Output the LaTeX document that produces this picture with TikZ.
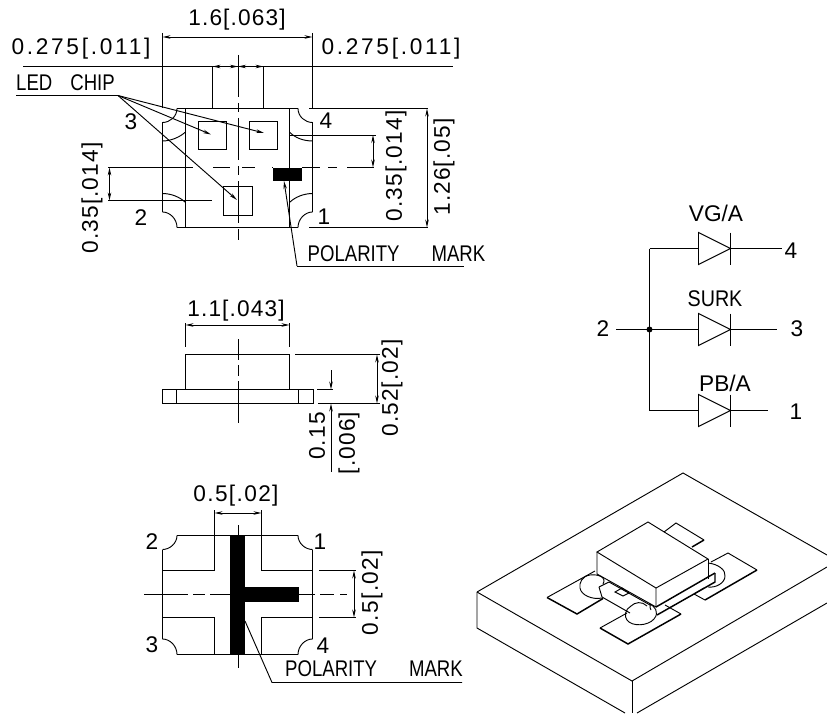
\documentclass[tikz,border=0pt]{standalone}
\usepackage{fontspec}
\setsansfont{Liberation Sans}
\usetikzlibrary{arrows.meta}
\tikzset{
  cad/.style={font=\sffamily\fontsize{17}{20}\selectfont\addfontfeature{LetterSpace=#1},inner sep=0pt},
  cad/.default=5,
  cadrot/.style={cad=#1,rotate=90},
  cadrot/.default=5,
  cadcaps/.style={font=\sffamily\fontsize{17}{20}\selectfont\addfontfeature{FakeStretch=#1},inner sep=0pt},
  cadcaps/.default=0.82,
  dimline/.style={{Stealth[length=6pt,width=2.6pt]}-{Stealth[length=6pt,width=2.6pt]}},
  leader/.style={-{Stealth[length=6pt,width=2.6pt]}},
  heavy/.style={line width=1.1pt}
}
\begin{document}
\begin{tikzpicture}[x=0.75pt,y=0.75pt,yscale=-1,xscale=1,line width=0.7pt]
\useasboundingbox (0,0) rectangle (827,713);

%Top view outline
\draw (177,108.5) -- (298,108.5) (312.5,122.5) -- (312.5,212) (298,227.5) -- (177,227.5) (162.5,212) -- (162.5,122.5);
\draw (177,108.5) .. controls (177,116.5) and (170,122.5) .. (162.5,122.5);
\draw (298,108.5) .. controls (298,116.5) and (305,122.5) .. (312.5,122.5);
\draw (162.5,212) .. controls (170,212) and (177,219) .. (177,227.5);
\draw (312.5,212) .. controls (305,212) and (298,219) .. (298,227.5);
\draw (185.5,108.5) -- (185.5,227.5);
\draw (289.5,108.5) -- (289.5,227.5);
%Pad curves
\draw (162.5,141) .. controls (171,141) and (180,137) .. (185.5,132);
\draw (289.5,132) .. controls (295,138) and (304,141) .. (312.5,141);
\draw (162.5,193.5) .. controls (171,193.5) and (180,197) .. (185.5,202.5);
\draw (289.5,202.5) .. controls (295,197) and (304,193.5) .. (312.5,193.5);
%Chips
\draw (198.5,121.5) rectangle (226.5,149.5);
\draw (249.5,121.5) rectangle (277.5,149.5);
\draw (223.5,186.5) rectangle (252.5,215.5);
\fill (273,167.5) rectangle (301.5,181);
%Centre lines
\foreach \a/\b in {55/97,103/112,118/160,166/175,181/223,229/240}
  \draw (238,\a) -- (238,\b);
\foreach \a/\b in {108/193,213/230,242/255,272/273,302/320,328/337,347/374}
  \draw (\a,167.5) -- (\b,167.5);
%Dimensions
\draw (162.5,33) -- (162.5,108.5);
\draw (312.5,33) -- (312.5,108.5);
\draw [dimline] (162.5,37) -- (312.5,37);
\draw (23,66.5) -- (453,66.5);
\draw (212.5,66.5) -- (212.5,108.5);
\draw (263.5,66.5) -- (263.5,108.5);
\draw [dimline] (212.5,66.5) -- (238,66.5);
\draw [dimline] (238,66.5) -- (263.5,66.5);
\draw (309,108.5) -- (428,108.5);
\draw (309,227.5) -- (428,227.5);
\draw [dimline] (427,108.5) -- (427,227.5);
\draw (289.5,135) -- (376,135);
\draw [dimline] (373,135) -- (373,167.5);
\draw (108,200.5) -- (212,200.5);
\draw [dimline] (109.5,167.5) -- (109.5,200.5);
%Leaders
\draw (16,95.5) -- (118,95.5);
\draw [leader] (118,95.5) -- (264,133);
\draw [leader] (118,95.5) -- (211,134.5);
\draw [leader] (118,95.5) -- (237,200);
\draw [leader] (297,266) -- (284,181);
\draw (297,266) -- (464,266);

% Text Node
\draw (237,20) node [cad] (topwidth) {1.6[.063]};
\draw (81,49) node [cad=12] (leftgap) {0.275[.011]};
\draw (391,49) node [cad=12] (rightgap) {0.275[.011]};
\draw (65.5,83) node [cadcaps] (ledchip) {LED\hspace{13.5pt}CHIP};
\draw (131,122) node [cad] (pinthree) {3};
\draw (326,121) node [cad] (pinfour) {4};
\draw (141,218) node [cad] (pintwo) {2};
\draw (324,217) node [cad] (pinone) {1};
\draw (92,198) node [cadrot] (leftpitch) {0.35[.014]};
\draw (396,166) node [cadrot] (rightpitch) {0.35[.014]};
\draw (444,167) node [cadrot] (topheight) {1.26[.05]};
\draw (396.5,254) node [cadcaps] (topmark) {POLARITY\hspace{24pt}MARK};

%Side view
\draw (185.5,354.5) rectangle (289.5,389.5);
\draw (162.5,389.5) rectangle (313,403.5);
\draw (176.5,389.5) -- (176.5,403.5);
\draw (298.5,389.5) -- (298.5,403.5);
\foreach \a/\b in {339/360,365/376,381/423}
  \draw (238,\a) -- (238,\b);
\draw (185.5,323) -- (185.5,347);
\draw (289.5,323) -- (289.5,347);
\draw [dimline] (185.5,325) -- (289.5,325);
\draw (295,354.5) -- (380,354.5);
\draw (317,389.5) -- (333,389.5);
\draw (318,403.5) -- (380,403.5);
\draw [dimline] (377,354.5) -- (377,403.5);
\draw [leader] (331,370) -- (331,389.5);
\draw [leader] (331,472) -- (331,403.5);

% Text Node
\draw (236,311) node [cad] (sidewidth) {1.1[.043]};
\draw (392,388) node [cadrot] (sideheight) {0.52[.02]};
\draw (317,436) node [cadrot] (padheight) {0.15};
\draw (349,443) node [cadrot] (padinch) {[.006]};

%Bottom view
\draw (177,535.5) -- (298,535.5) (312.5,549.5) -- (312.5,639) (298,654.5) -- (177,654.5) (162.5,639) -- (162.5,549.5);
\draw (177,535.5) .. controls (177,543) and (170,549.5) .. (162.5,549.5);
\draw (298,535.5) .. controls (298,543) and (305,549.5) .. (312.5,549.5);
\draw (162.5,639) .. controls (170,639) and (177,646) .. (177,654.5);
\draw (312.5,639) .. controls (305,639) and (298,646) .. (298,654.5);
\draw (214.5,510) -- (214.5,570.5) -- (162.5,570.5);
\draw (261.5,510) -- (261.5,570.5) -- (312.5,570.5);
\draw (162.5,617.5) -- (214.5,617.5) -- (214.5,654.5);
\draw (312.5,617.5) -- (261.5,617.5) -- (261.5,654.5);
\draw (319,570.5) -- (356,570.5);
\draw (319,617.5) -- (356,617.5);
\draw [dimline] (214.5,513) -- (261.5,513);
\draw [dimline] (354,570.5) -- (354,617.5);
\foreach \a/\b in {525/535,654/668}
  \draw (238,\a) -- (238,\b);
\foreach \a/\b in {144/188,193/205,210/229.5,299/315,320/334,340/347}
  \draw (\a,594.5) -- (\b,594.5);
\fill (229.5,535) rectangle (245,654.5);
\fill (245,587) rectangle (299,602);
\draw (245,621) -- (272,682.5) -- (462,682.5);

% Text Node
\draw (236,496) node [cad=6] (bottomwidth) {0.5[.02]};
\draw (372,592.5) node [cadrot=6] (bottomheight) {0.5[.02]};
\draw (152,542) node [cad] (bpintwo) {2};
\draw (320,542) node [cad] (bpinone) {1};
\draw (152,645) node [cad] (bpinthree) {3};
\draw (323,646) node [cad] (bpinfour) {4};
\draw (374,669) node [cadcaps] (bottommark) {POLARITY\hspace{24pt}MARK};

%Schematic
\coordinate (junction) at (649.5,329.5);
\coordinate (upper) at (649.5,248.5);
\coordinate (lower) at (649.5,410.5);
\foreach \name/\y/\xend in {top/248.5/782,mid/329.5/777,bot/410.5/768} {
  \coordinate (\name-in) at (698.5,\y);
  \coordinate (\name-out) at (730.5,\y);
  \coordinate (\name-end) at (\xend,\y);
  \draw (698.5,\y-16) -- (\name-out) -- (698.5,\y+16) -- cycle;
  \draw (730.5,\y-16) -- (730.5,\y+16);
  \draw (\name-out) -- (\name-end);
}
\draw (upper) -- (lower);
\draw (upper) -- (top-in);
\draw (lower) -- (bot-in);
\coordinate (common) at (616,329.5);
\draw (common) -- (mid-in);
\fill (junction) circle [radius=3];

% Text Node
\draw (716,213) node [cad=0] (vgname) {VG/A};
\draw (715,299) node [cadcaps=0.87] (surkname) {SURK};
\draw (725,383) node [cad=0] (pbname) {PB/A};
\draw (603,329) node [cad] (snodetwo) {2};
\draw (791,251) node [cad] (snodefour) {4};
\draw (797,329) node [cad] (snodethree) {3};
\draw (796,412) node [cad] (snodeone) {1};

%Isometric board
\draw (477,592) -- (683,473) -- (827,555);
\draw (477,592) -- (632,681) -- (827,567);
\draw (477,592) -- (477,628) -- (625,713);
\draw (632,681) -- (632,713);
\draw (637,713) -- (827,603);

%Isometric pads
\draw (595,571) -- (547,597.5);
\draw [heavy] (547,597.5) -- (577,614) -- (603,598.5);
\draw (627,613) -- (600,628);
\draw [heavy] (600,628) -- (628,644) -- (681,614);
\draw (681,614) -- (665,605);
\draw (694,594) -- (705,600);
\draw [heavy] (705,600) -- (757,570);
\draw (694,594) -- (704,588);
\draw (757,570) -- (728,553) -- (711,562);
\draw (664,532) -- (676,523) -- (704,540);
\draw [heavy] (704,540) -- (692,547);

%Isometric package
\draw (597,552) -- (648,522) -- (708,559) -- (656,588) -- cycle;
\draw (597,552) -- (597,574) -- (656,607) -- (656,588);
\draw (708,559) -- (708,579);
\draw (599,587) -- (609,582);
\draw (609,582) -- (650,605);
\draw (602,597) -- (630,613);
\draw (599,587) -- (602,597);
\draw (615,592) -- (622,588) -- (629,593) -- (623,596) -- cycle;
\draw [heavy] (656,607) -- (715,573);
\draw [heavy] (657,615) -- (715,582) -- (715,573);

%Bond lobes
\draw (603,584) .. controls (607,577) and (598,574) .. (590,575) .. controls (582,576) and (579,583) .. (580,588) .. controls (581,595) and (592,600) .. (602,598);
\draw (631,606) .. controls (625,609) and (624,617) .. (627,620) .. controls (632,627) and (648,626) .. (654,619) .. controls (660,612) and (654,606) .. (650,604) .. controls (650,607) and (650,609) .. (651,610);
\draw (631,606) .. controls (635,602) and (642,601) .. (647,606);
\draw (708,563) .. controls (718,564) and (726,570) .. (725,576) .. controls (725,583) and (716,588) .. (708,587);
\end{tikzpicture}
\end{document}
